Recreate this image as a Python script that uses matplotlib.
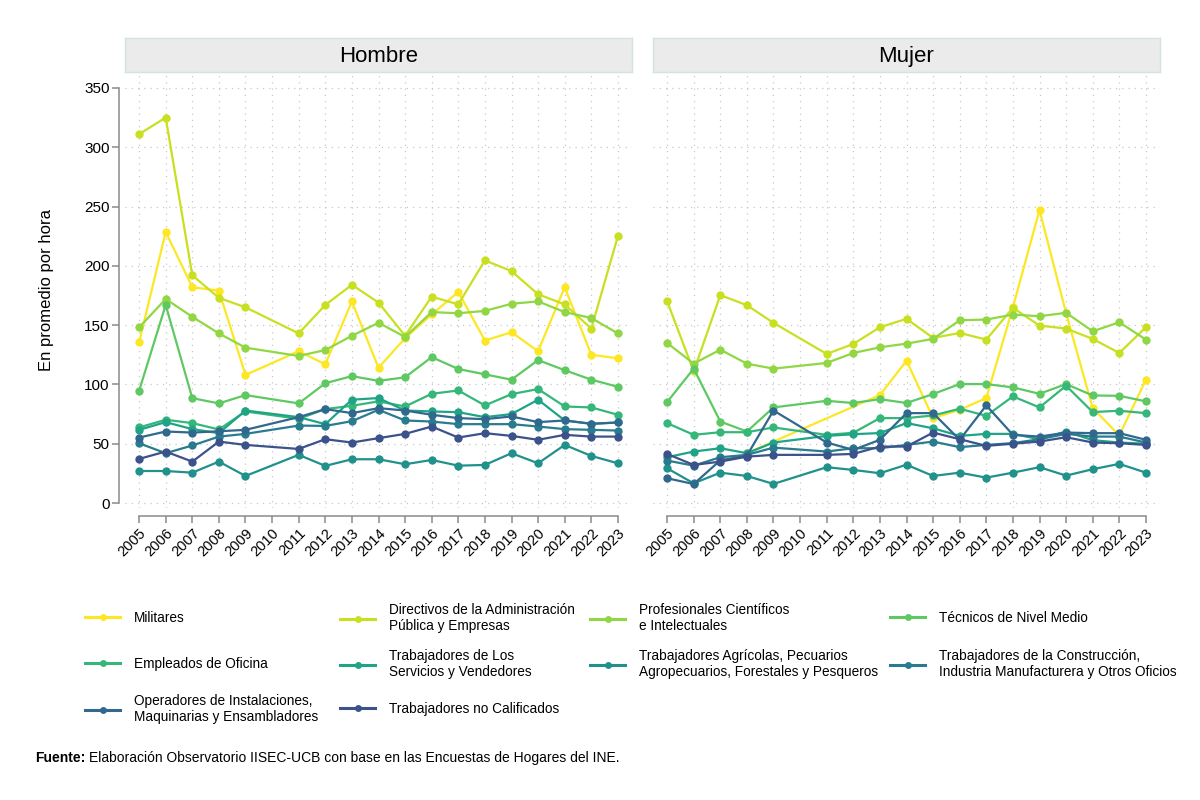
import numpy as np
import matplotlib
matplotlib.use("Agg")
import matplotlib.pyplot as plt
from matplotlib.lines import Line2D

plt.rcParams['font.family'] = ['Liberation Sans', 'DejaVu Sans']

years = [2005, 2006, 2007, 2008, 2009, 2011, 2012, 2013, 2014, 2015,
         2016, 2017, 2018, 2019, 2020, 2021, 2022, 2023]
all_years = list(range(2005, 2024))

categories = [
    "Militares",
    "Directivos de la Administración\nPública y Empresas",
    "Profesionales Científicos\ne Intelectuales",
    "Técnicos de Nivel Medio",
    "Empleados de Oficina",
    "Trabajadores de Los\nServicios y Vendedores",
    "Trabajadores Agrícolas, Pecuarios\nAgropecuarios, Forestales y Pesqueros",
    "Trabajadores de la Construcción,\nIndustria Manufacturera y Otros Oficios",
    "Operadores de Instalaciones,\nMaquinarias y Ensambladores",
    "Trabajadores no Calificados",
]

nan = np.nan
hombre_militares = [135.5, 228.5, 182, 179, 108, 128, 117, 170, 114, 139, 159, 178, 137, 144, 128, 182, 125, 122]
hombre_directivos = [311, 325, 192, 173, 165, 143, 167, 184, 169, 141, 174, 167.5, 204.6, 195.5, 176, 167.5, 147, 225]
hombre_profesionales = [148, 172, 157, 143, 131, 124, 129, 141, 152, 140, 161, 160, 162, 168, 170, 161, 156, 143]
hombre_tecnicos = [94.6, 167, 88.4, 84, 91, 84, 101, 107, 103, 106, 123, 113, 108.5, 104, 120.5, 112, 104, 98]
hombre_empleados = [63.7, 70.2, 67.4, 62, 77.2, 71, 79.2, 82, 85.7, 81.4, 92.1, 94.9, 82.3, 91.8, 96.1, 81.4, 80.6, 74.4]
hombre_servicios = [61.7, 68.2, 62.3, 58.9, 78, 72.4, 66.5, 87.1, 88.5, 78, 77.2, 76.6, 72.4, 75, 87.1, 69.6, 66.8, 67.9]
hombre_agricolas = [27, 27, 25.6, 34.9, 22.8, 40.6, 31.3, 36.9, 36.9, 32.7, 36.3, 31.5, 32.1, 42, 33.5, 49, 39.7, 33.5]
hombre_construccion = [50.4, 42, 48.5, 56, 58.3, 65.3, 65, 69, 78.6, 69.6, 68.7, 66.5, 66.5, 66.5, 64.5, 62.3, 61.7, 61.1]
hombre_operadores = [55.2, 60.3, 59.4, 60.5, 61.7, 72.4, 79.2, 75.8, 80, 78, 74.4, 71.6, 70.7, 73, 68.2, 69.6, 66.8, 67.9]
hombre_nocalificados = [37.2, 43.4, 34.9, 51.8, 49, 45.6, 53.8, 51, 54.7, 58.3, 64.5, 55.2, 58.9, 56.6, 53.3, 57.5, 56, 56]

mujer_militares = [nan, nan, nan, 42, nan, nan, nan, 91, 120, 71.6, 78.6, 88.5, 165, 247, 160, 80, 57, 104]
mujer_directivos = [170.2, 111, 175.3, 166.8, 151.9, 125.7, 134.1, 148.2, 155.3, 139.2, 143.4, 137.8, 164.6, 149.6, 147.1, 138.4, 126.5, 148.2]
mujer_profesionales = [135, 117.5, 129.3, 117.5, 113.3, 118.1, 126.5, 131.3, 134.4, 138.4, 154.1, 154.7, 158.9, 157.5, 160.4, 144.8, 152.4, 137.8]
mujer_tecnicos = [85.1, 113.3, 68.7, 60.3, 80.6, 86.2, 84.3, 87.6, 84.3, 91.9, 100.3, 100.3, 97.5, 92.1, 100.3, 90.7, 90.4, 85.7]
mujer_empleados = [67.4, 57.5, 59.7, 59.7, 63.7, 57.5, 59.2, 71.6, 71.6, 73.8, 79.5, 73.5, 89.9, 80.6, 98.9, 76.7, 77.8, 75.8]
mujer_servicios = [38.6, 43.4, 46.2, 42, 51, 56.6, 58, 59, 67.4, 63, 56.6, 58.3, 58.3, 53.8, 60.3, 53, 51, 50]
mujer_agricolas = [29.3, 16.6, 25.6, 22.8, 16.1, 30.2, 27.9, 25.1, 32.3, 22.8, 25.6, 21.4, 25.6, 30.2, 23.1, 28.5, 33, 25.6]
mujer_construccion = [35.8, 31.5, 38.6, 40.6, 46.7, 43.4, 46.2, 46.2, 49, 51.8, 47.1, 49, 50.5, 53.8, 58.3, 56, 56, 51]
mujer_operadores = [20.9, 16, 36, 40, 78, 51, 44.8, 53.3, 75.8, 75.8, 53.3, 82.3, 57.5, 56, 59.4, 58.9, 58.9, 53.3]
mujer_nocalificados = [41.4, 32.1, 34.9, 39.1, 40.6, 40.6, 41.4, 47.6, 47.6, 59.4, 53.8, 48.2, 50, 51.8, 55.5, 51, 50.4, 49]

hombre = [hombre_militares, hombre_directivos, hombre_profesionales, hombre_tecnicos,
          hombre_empleados, hombre_servicios, hombre_agricolas, hombre_construccion,
          hombre_operadores, hombre_nocalificados]
mujer = [mujer_militares, mujer_directivos, mujer_profesionales, mujer_tecnicos,
         mujer_empleados, mujer_servicios, mujer_agricolas, mujer_construccion,
         mujer_operadores, mujer_nocalificados]

panel_titles = ["Hombre", "Mujer"]
yticks = [0, 50, 100, 150, 200, 250, 300, 350]

colors = plt.cm.viridis(np.linspace(1.0, 0.25, 10))

W, H = 1200, 800
fig = plt.figure(figsize=(12, 8), dpi=100)
fig.patch.set_facecolor('white')


def rect(x0, y0, x1, y1):
    return [x0 / W, 1 - y1 / H, (x1 - x0) / W, (y1 - y0) / H]


panels = [(125, 632), (653, 1160)]
axes = []
for i, (x0, x1) in enumerate(panels):
    ax = fig.add_axes(rect(x0, 75, x1, 508))
    axes.append(ax)
    hdr = fig.add_axes(rect(x0, 38, x1, 72))
    hdr.set_facecolor('#ebebeb')
    for s in hdr.spines.values():
        s.set_color('#d5e2e2')
        s.set_linewidth(1.0)
    hdr.set_xticks([])
    hdr.set_yticks([])
    hdr.text(0.5, 0.47, panel_titles[i], ha='center', va='center', fontsize=16, color='black')

for i, ax in enumerate(axes):
    # spine layout first (set_position resets tick objects)
    for s in ['top', 'right']:
        ax.spines[s].set_visible(False)
    ax.spines['bottom'].set_position(('outward', 6))
    if i == 0:
        ax.spines['left'].set_position(('outward', 4))
    else:
        ax.spines['left'].set_visible(False)

    data = hombre if i == 0 else mujer
    yr = np.array(years)
    for k, series in enumerate(data):
        y = np.array(series, dtype=float)
        m = ~np.isnan(y)
        ax.plot(yr[m], y[m], '-o', color=colors[k], lw=1.6, ms=6,
                markeredgewidth=0, zorder=3 + k)
    ax.set_xlim(2004.47, 2023.53)
    ax.set_ylim(-4.2, 360.9)
    ax.set_xticks(all_years)
    ax.set_xticklabels([str(v) for v in all_years], rotation=45, ha='right',
                       rotation_mode='anchor', fontsize=10.5)
    ax.set_yticks(yticks)
    ax.grid(True, color='#c8c8c8', linestyle=(0, (1, 4)), linewidth=0.9)
    ax.set_axisbelow(True)
    ax.spines['bottom'].set_bounds(2005, 2023)
    ax.spines['bottom'].set_color('#8a8a8a')
    ax.spines['bottom'].set_linewidth(1.1)
    ax.tick_params(axis='x', length=5, width=1.1, color='#8a8a8a', pad=2)
    if i == 0:
        ax.spines['left'].set_bounds(0, 350)
        ax.spines['left'].set_color('#8a8a8a')
        ax.spines['left'].set_linewidth(1.1)
        ax.tick_params(axis='y', length=5, width=1.1, color='#8a8a8a', labelsize=11, pad=2)
        ax.set_yticklabels([str(v) for v in yticks])
    else:
        ax.tick_params(axis='y', length=0, labelleft=False)

fig.text(47 / W, 1 - 290 / H, 'En promedio por hora', rotation=90, ha='center', va='center', fontsize=12)

# legend: one entry per grid cell (row-wise, 4 columns)
col_x = [85, 340, 590, 890]
row_y = [618, 664, 709]
for k in range(10):
    r, c = divmod(k, 4)
    h = Line2D([0], [0], color=colors[k], lw=2.2, marker='o', ms=5, markeredgewidth=0)
    fig.legend([h], [categories[k]], loc='center left',
               bbox_to_anchor=(col_x[c] / W, 1 - row_y[r] / H), frameon=False,
               fontsize=9.8, handlelength=2.6, handletextpad=1.0,
               borderpad=0, borderaxespad=0)

t1 = fig.text(35 / W, 1 - 758 / H, 'Fuente:', fontsize=10, fontweight='bold', va='center')
fig.canvas.draw()
bb = t1.get_window_extent()
fig.text((bb.x1 + 4) / W, 1 - 758 / H,
         'Elaboración Observatorio IISEC-UCB con base en las Encuestas de Hogares del INE.',
         fontsize=10, va='center')

fig.savefig('out.png', dpi=100, facecolor='white')
